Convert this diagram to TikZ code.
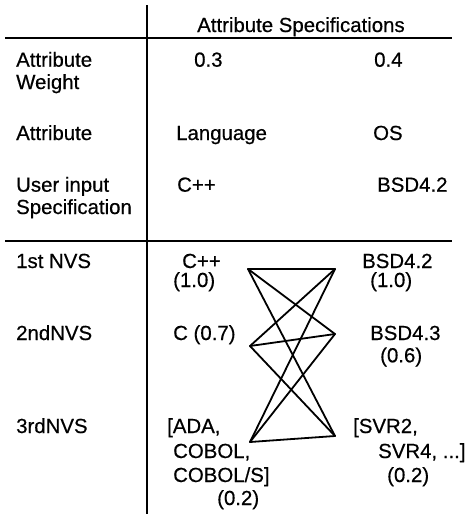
\documentclass[tikz,border=0pt]{standalone}
\usepackage{fontspec}
\setmainfont{Liberation Sans}[FakeBold=0.5]
\begin{document}
\begin{tikzpicture}[x=1pt,y=-1pt,
  txt/.style={anchor=base west,inner sep=0pt,font=\fontsize{20.4}{22}\selectfont},
  rule/.style={line width=2.1pt},
  link/.style={line width=1.8pt,line join=round,line cap=round}]
\useasboundingbox (0,0) rectangle (472,517);
% rules
\draw[rule] (147,5) -- (147,514);
\draw[rule] (5,38) -- (452,38);
\draw[rule] (5,241) -- (452,241);
% header
\node[txt] (hdr) at (197,32) {Attribute Specifications};
% left column
\node[txt] (aw1) at (16,66.7) {Attribute};
\node[txt] (aw2) at (16,89) {Weight};
\node[txt] (at) at (16,140) {Attribute};
\node[txt] (ui1) at (16,191.7) {User input};
\node[txt] (ui2) at (16,214) {Specification};
\node[txt] (n1) at (16,268) {1st NVS};
\node[txt] (n2) at (16,340) {2ndNVS};
\node[txt] (n3) at (16,433) {3rdNVS};
% weights
\node[txt] (w1) at (194,66.7) {0.3};
\node[txt] (w2) at (374,66.7) {0.4};
\node[txt] (a1) at (176,140) {Language};
\node[txt] (a2) at (373,140) {OS};
\node[txt] (u1) at (177,191.7) {C++};
\node[txt] (u2) at (377,191.7) {BSD4.2};
% NVS values left
\node[txt] (l1a) at (182,268) {C++};
\node[txt] (l1b) at (173,287) {(1.0)};
\node[txt] (l2a) at (173,340) {C (0.7)};
\node[txt] (l3a) at (167,433) {[ADA,};
\node[txt] (l3b) at (173,458) {COBOL,};
\node[txt] (l3c) at (173,482) {COBOL/S]};
\node[txt] (l3d) at (217,505) {(0.2)};
% NVS values right
\node[txt] (r1a) at (362,268) {BSD4.2};
\node[txt] (r1b) at (370,287) {(1.0)};
\node[txt] (r2a) at (370,340) {BSD4.3};
\node[txt] (r2b) at (380,362.3) {(0.6)};
\node[txt] (r3a) at (353,433) {[SVR2,};
\node[txt] (r3b) at (378,458) {SVR4, ...]};
\node[txt] (r3c) at (387,482) {(0.2)};
% connector ends
\coordinate (L1) at (248,269);
\coordinate (L2) at (250,346);
\coordinate (L3) at (250,442);
\coordinate (R1) at (335,269);
\coordinate (R2) at (335,334);
\coordinate (R3) at (335,436);
\foreach \l in {L1,L2,L3}{
  \foreach \r in {R1,R2,R3}{
    \draw[link] (\l) -- (\r);
  }
}
\end{tikzpicture}
\end{document}
